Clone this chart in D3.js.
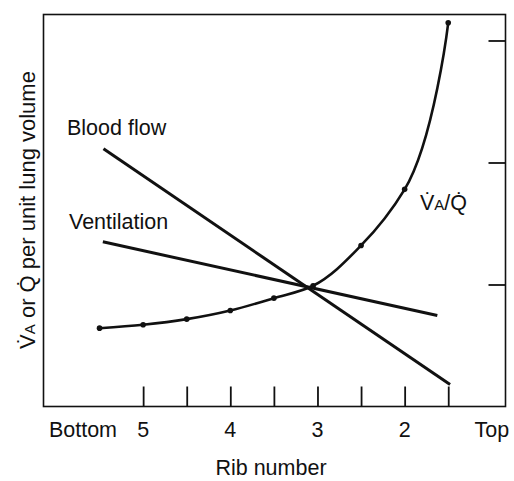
<!DOCTYPE html>
<html>
<head>
<meta charset="utf-8">
<script src="https://cdn.jsdelivr.net/npm/d3@7"></script>
<style>
  html, body { margin: 0; padding: 0; background: #fff; }
  text { font-family: "Liberation Sans", Arial, sans-serif; fill: #111; }
</style>
</head>
<body>
<div id="chart"></div>
<script>
// rib positions (5 = bottom of lung, 1 = top)
var ribTicks = [5, 4.5, 4, 3.5, 3, 2.5, 2, 1.5];
var ribLabels = [
  {rib: 5.69, text: "Bottom"},
  {rib: 5, text: "5"},
  {rib: 4, text: "4"},
  {rib: 3, text: "3"},
  {rib: 2, text: "2"},
  {rib: 1, text: "Top"}
];
var yTicks = [1, 2, 3];

// values (arbitrary units per unit lung volume)
var bloodFlow = [{rib: 5.455, v: 2.112}, {rib: 1.479, v: 0.18}];
var ventilation = [{rib: 5.462, v: 1.35}, {rib: 1.625, v: 0.746}];
var vaq = [
  {rib: 5.5, v: 0.642},
  {rib: 5.0, v: 0.670},
  {rib: 4.5, v: 0.716},
  {rib: 4.0, v: 0.787},
  {rib: 3.5, v: 0.888},
  {rib: 3.05, v: 0.99},
  {rib: 2.5, v: 1.32},
  {rib: 2.0, v: 1.78},
  {rib: 1.5, v: 3.145}
];

var width = 514, height = 481;
var plotL = 43.5, plotR = 505.5, plotT = 14.5, plotB = 406.5;

var svg = d3.select('#chart').append('svg')
  .attr('width', width)
  .attr('height', height);

var x = d3.scaleLinear().domain([6.143, 0.843]).range([plotL, plotR]);
var y = d3.scaleLinear().domain([0, 3.213]).range([plotB, plotT]);

// frame
svg.append('rect')
  .attr('x', plotL).attr('y', plotT)
  .attr('width', plotR - plotL).attr('height', plotB - plotT)
  .attr('fill', 'none').attr('stroke', '#111').attr('stroke-width', 1.6);

// bottom ticks (inside)
var xAxis = svg.append('g')
  .attr('transform', 'translate(0,' + plotB + ')')
  .call(d3.axisBottom(x).tickValues(ribTicks).tickSize(-20).tickFormat(''));
xAxis.select('.domain').remove();
xAxis.selectAll('line').attr('stroke', '#111').attr('stroke-width', 1.8);

// right ticks (inside)
var yAxis = svg.append('g')
  .attr('transform', 'translate(' + plotR + ',0)')
  .call(d3.axisLeft(y).tickValues(yTicks).tickSize(17).tickFormat(''));
yAxis.select('.domain').remove();
yAxis.selectAll('line').attr('stroke', '#111').attr('stroke-width', 1.8);

// tick labels
svg.selectAll('.riblabel').data(ribLabels).enter().append('text')
  .attr('class', 'riblabel')
  .attr('x', d => x(d.rib))
  .attr('y', 437)
  .attr('text-anchor', 'middle')
  .attr('font-size', 21.5)
  .text(d => d.text);

svg.append('text')
  .attr('x', 271).attr('y', 475)
  .attr('text-anchor', 'middle')
  .attr('font-size', 21.5)
  .text('Rib number');

// y label
var yl = svg.append('text')
  .attr('transform', 'translate(35,210) rotate(-90)')
  .attr('text-anchor', 'middle')
  .attr('font-size', 22);
yl.append('tspan').text('V\u0307');
yl.append('tspan').attr('font-size', 15).text('A');
yl.append('tspan').text(' or Q\u0307 per unit lung volume');

var line = d3.line().x(d => x(d.rib)).y(d => y(d.v));

svg.append('path').datum(bloodFlow)
  .attr('d', line).attr('fill', 'none')
  .attr('stroke', '#111').attr('stroke-width', 3);

svg.append('path').datum(ventilation)
  .attr('d', line).attr('fill', 'none')
  .attr('stroke', '#111').attr('stroke-width', 3);

svg.append('path').datum(vaq)
  .attr('d', line.curve(d3.curveCatmullRom.alpha(1))).attr('fill', 'none')
  .attr('stroke', '#111').attr('stroke-width', 2.6);

svg.selectAll('.dot').data(vaq).enter().append('circle')
  .attr('class', 'dot')
  .attr('cx', d => x(d.rib)).attr('cy', d => y(d.v))
  .attr('r', 2.8).attr('fill', '#111');

// series labels
svg.append('text').attr('x', 67).attr('y', 135).attr('font-size', 21.5).text('Blood flow');
svg.append('text').attr('x', 69).attr('y', 229).attr('font-size', 21.5).text('Ventilation');

var vl = svg.append('text').attr('x', 420).attr('y', 210).attr('font-size', 21.5);
vl.append('tspan').text('V\u0307');
vl.append('tspan').attr('font-size', 15).text('A');
vl.append('tspan').text('/Q\u0307');
</script>
</body>
</html>
